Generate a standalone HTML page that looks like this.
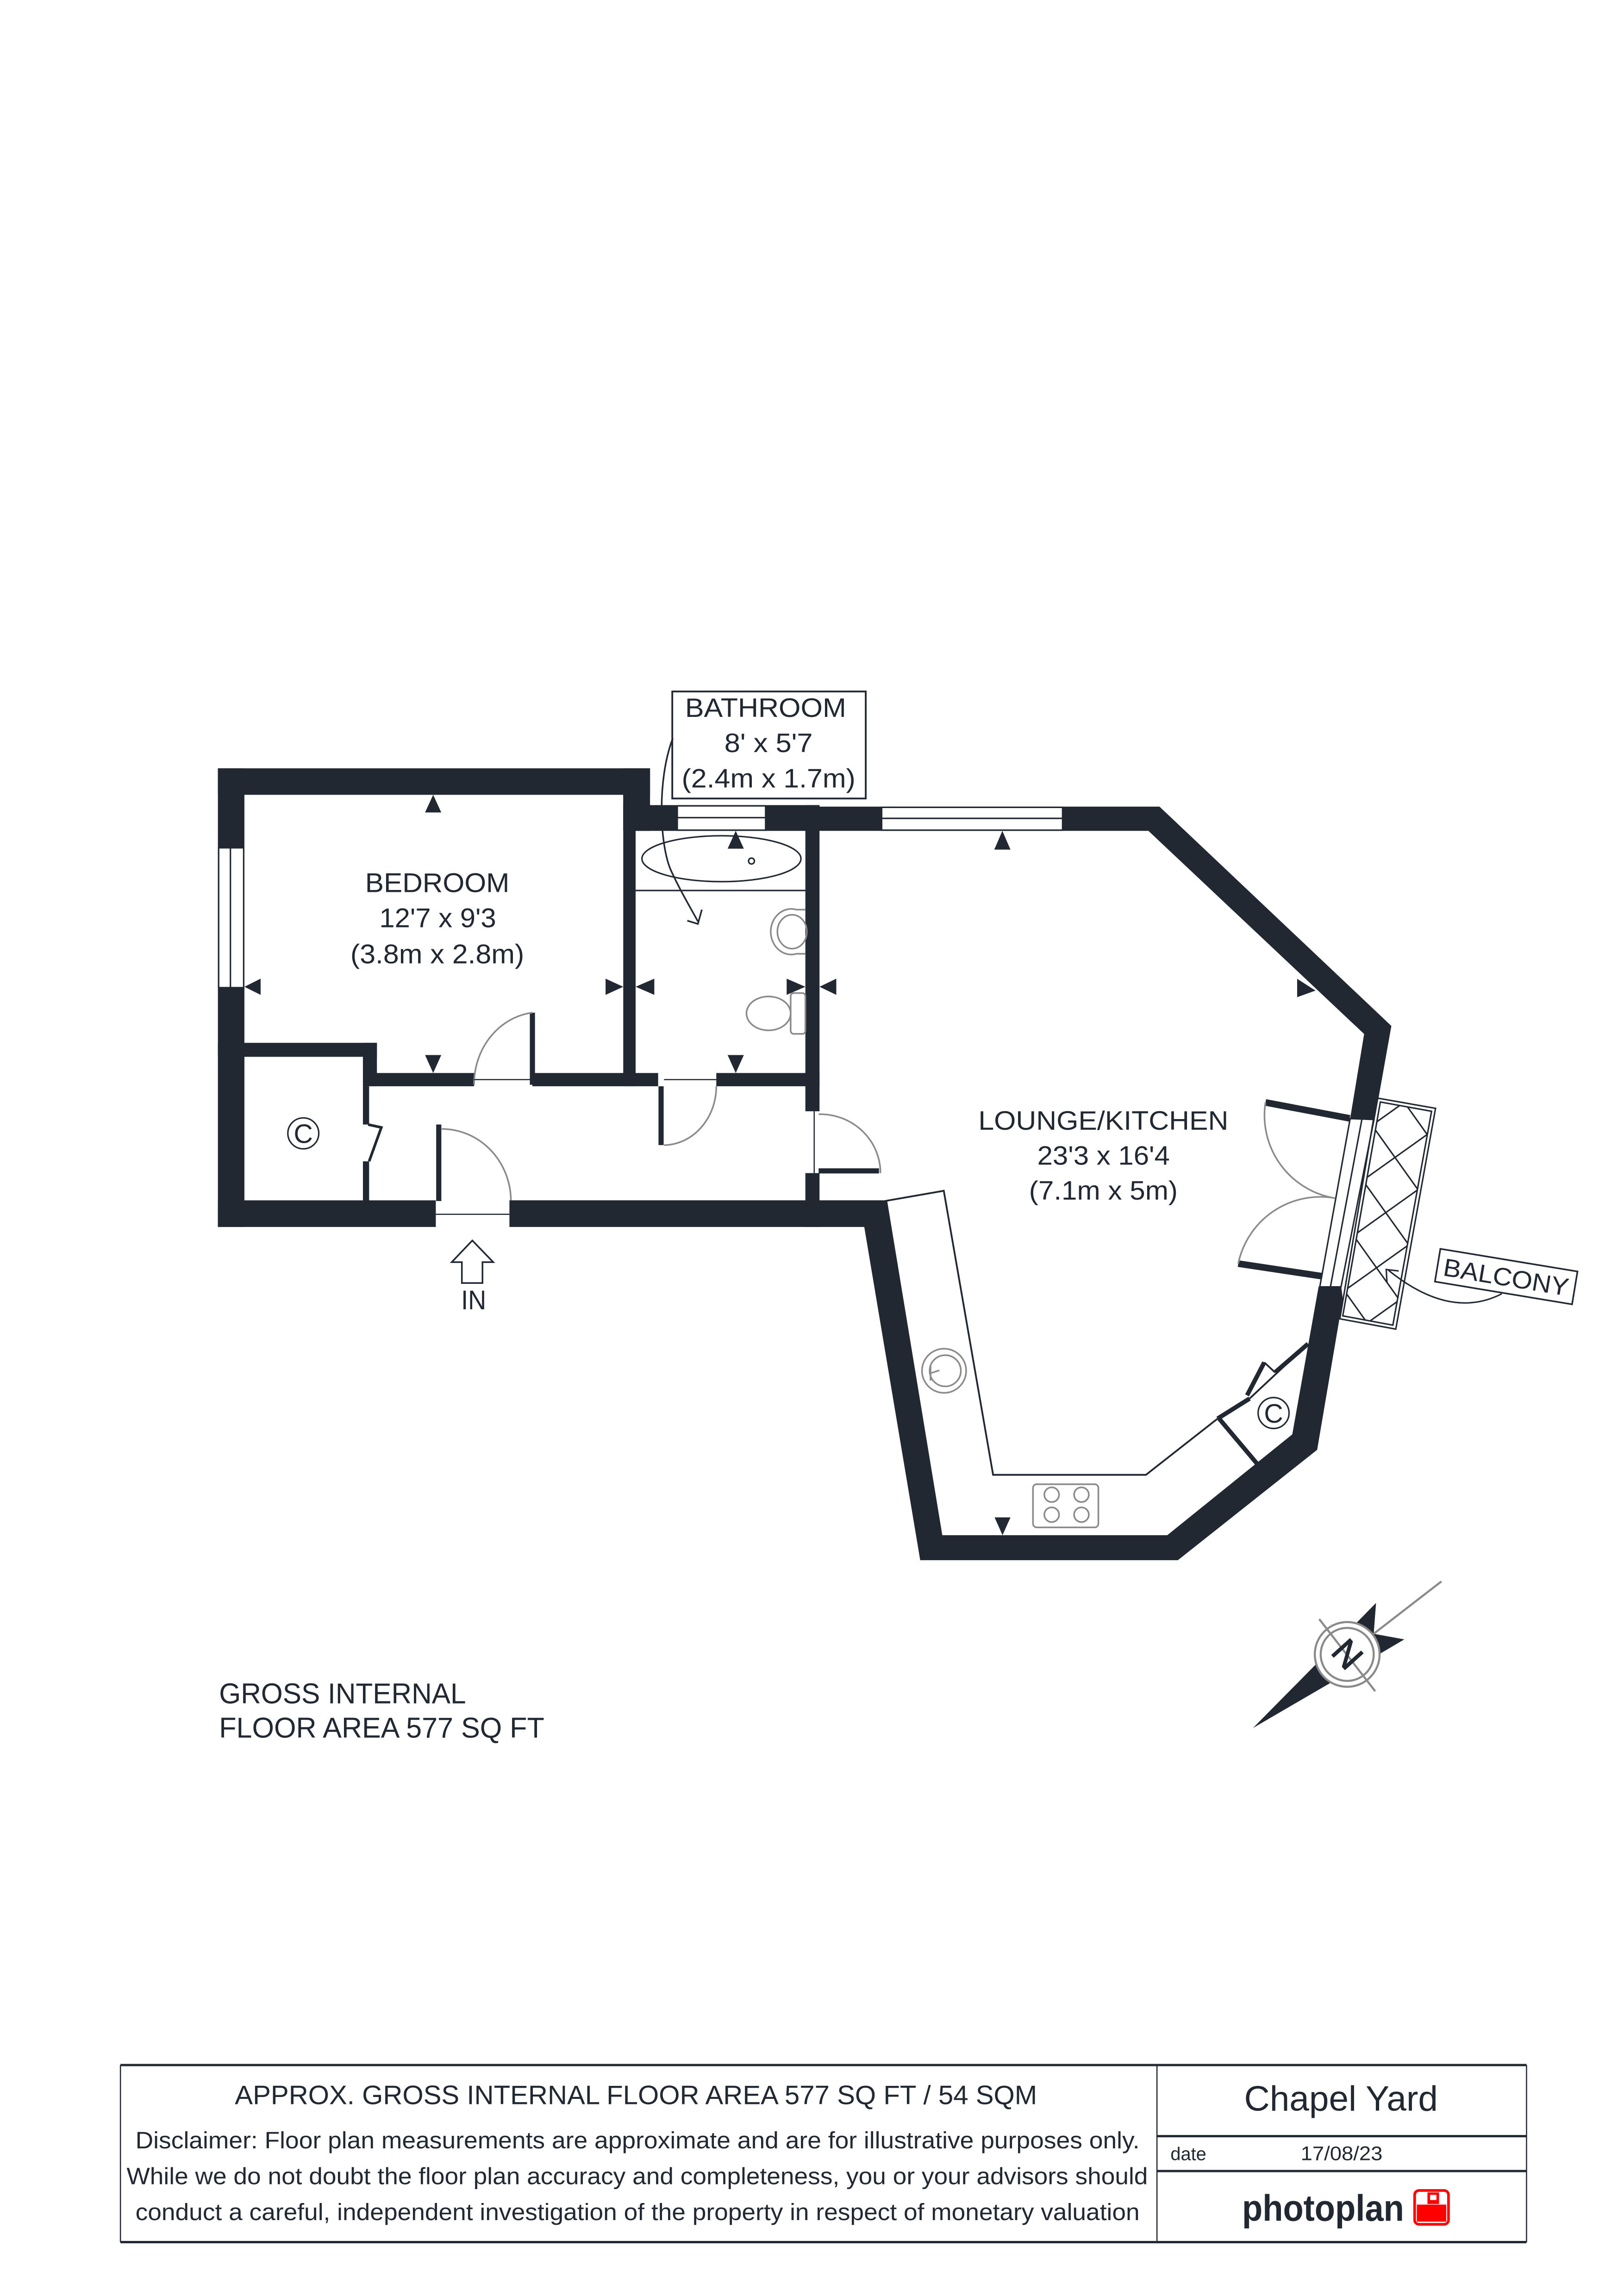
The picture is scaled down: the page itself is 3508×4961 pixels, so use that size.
<!DOCTYPE html>
<html><head><meta charset="utf-8"><style>
html,body{margin:0;padding:0;background:#fff;}
svg{display:block;}
text{font-family:"Liberation Sans",Arial,sans-serif;fill:#212831;}
</style></head><body>
<svg xmlns="http://www.w3.org/2000/svg" width="3508" height="4961" viewBox="0 0 1103 1559.9" preserveAspectRatio="none">
<rect x="0" y="0" width="1103" height="1560" fill="#fff"/>
<defs>
<clipPath id="balc"><polygon points="937,748.5 972.5,755 946,900.5 912,894"/></clipPath>
</defs>
<g fill="#212831" stroke="none">
<rect x="148" y="522" width="293.5" height="18"/>
<rect x="423.3" y="522" width="18.2" height="42.5"/>
<rect x="148" y="522" width="18" height="311.6"/>
<rect x="423.3" y="540" width="8.4" height="198"/>
<rect x="423.3" y="547" width="133.3" height="17.5"/>
<rect x="547" y="547" width="9.6" height="208"/>
<rect x="547" y="797" width="9.6" height="36.6"/>
<rect x="148" y="708.5" width="108" height="9.5"/>
<rect x="246.5" y="708.5" width="9.5" height="29.5"/>
<rect x="246.5" y="738" width="4.2" height="26"/>
<rect x="246.5" y="789" width="4.2" height="30"/>
<rect x="246.5" y="729" width="75.5" height="9"/>
<rect x="361.6" y="729" width="85.4" height="9"/>
<rect x="486.5" y="729" width="70.1" height="9"/>
<rect x="148" y="815.5" width="148" height="18.1"/>
<polygon points="346,815.5 602.5,815.5 640,1043 792.8,1043 877.7,974.5 895.6,874 911,874.3 912,882.5 894.6,985 800,1060 625,1060 587,833.6 346,833.6"/>
<polygon points="547,548 787.5,548 945,697 933.6,761 917,760 926.5,702.5 780,564.5 547,564.5"/>
</g>
<g fill="#fff" stroke="#212831" stroke-width="1">
<rect x="148.5" y="576" width="17" height="95"/>
<rect x="460" y="547.5" width="60" height="16.5"/>
<rect x="598.8" y="548.5" width="122.9" height="15.5"/>
<polygon points="917,760 933.2,760.6 910.8,874.3 896.4,874.3"/>
</g>
<g stroke="#212831" stroke-width="1" fill="none">
<line x1="156.5" y1="576" x2="156.5" y2="671"/>
<line x1="460" y1="555.5" x2="520" y2="555.5"/>
<line x1="598.8" y1="556" x2="721.7" y2="556"/>
<line x1="925" y1="760.3" x2="903.6" y2="874.3"/>
</g>
<g fill="none" stroke="#212831" stroke-width="1">
<polygon points="935.3,746 975,753 948,903 910,896"/>
<polygon points="937.5,748.7 972.3,755 946,900.3 912,894"/>
<g clip-path="url(#balc)">
<g transform="translate(942,825) rotate(9.5)">
<line x1="-20" y1="-96" x2="40" y2="-36"/>
<line x1="-20" y1="-58" x2="40" y2="2"/>
<line x1="-20" y1="-20" x2="40" y2="40"/>
<line x1="-20" y1="18" x2="40" y2="78"/>
<line x1="-20" y1="56" x2="40" y2="116"/>
<line x1="-60" y1="-56" x2="20" y2="-136"/>
<line x1="-60" y1="-18" x2="20" y2="-98"/>
<line x1="-60" y1="20" x2="20" y2="-60"/>
<line x1="-60" y1="58" x2="20" y2="-22"/>
<line x1="-60" y1="96" x2="20" y2="16"/>
<line x1="-60" y1="134" x2="20" y2="54"/>
</g></g>
</g>
<g stroke="#212831" stroke-width="4.5" fill="none">
<line x1="859.5" y1="749" x2="916.7" y2="759.8"/>
<line x1="841" y1="858.5" x2="897.5" y2="867"/>
</g>
<g stroke="#8a8a8a" stroke-width="1.1" fill="none">
<path d="M859.5,749 A57,57 0 0 0 906.6,814"/>
<path d="M841,858.5 A57,57 0 0 1 906.6,814"/>
</g>
<g stroke="#212831" stroke-width="3.5" fill="none">
<line x1="361.6" y1="688" x2="361.6" y2="737"/>
<line x1="449" y1="738" x2="449" y2="778"/>
<line x1="298" y1="764" x2="298" y2="816"/>
<line x1="556" y1="795.5" x2="597" y2="795.5"/>
</g>
<g stroke="#212831" stroke-width="1.8" fill="none">
<polyline points="250,764 259,766 250.7,789"/>
</g>
<g stroke="#8a8a8a" stroke-width="1.1" fill="none">
<path d="M322,737 A45,49 0 0 1 361.6,688"/>
<path d="M451,778 A36,40 0 0 0 486.5,738"/>
<path d="M300,767 A47,49 0 0 1 347,815.5"/>
<path d="M556,757 A41,40 0 0 1 598,797"/>
</g>
<g stroke="#212831" stroke-width="0.8" fill="none">
<line x1="322" y1="733.5" x2="361.6" y2="733.5"/>
<line x1="451" y1="733.5" x2="486.5" y2="733.5"/>
<line x1="296" y1="825" x2="346" y2="825"/>
<line x1="553" y1="755" x2="553" y2="797"/>
</g>
<g stroke="#212831" stroke-width="1.2" fill="none">
<polyline points="601,816 641,809 674.5,1002 778.3,1002 827,963.8"/>
<line x1="848.7" y1="950.2" x2="888.4" y2="913"/>
<line x1="858.7" y1="925.6" x2="866" y2="932.4"/>
</g>
<g stroke="#212831" stroke-width="3" fill="none">
<line x1="827" y1="963.8" x2="848.7" y2="950.2"/>
<line x1="828" y1="963.8" x2="854" y2="994.7"/>
<line x1="847" y1="948" x2="858.7" y2="925.6"/>
<line x1="866" y1="932.4" x2="888.4" y2="913"/>
</g>
<g stroke="#8a8a8a" stroke-width="1.1" fill="none">
<circle cx="641.2" cy="931.3" r="15"/>
<circle cx="642" cy="931.3" r="10.6"/>
<line x1="632" y1="933" x2="638" y2="931"/>
<line x1="632" y1="928" x2="632" y2="938"/>
<rect x="701.6" y="1008.4" width="44.4" height="29.3" rx="2.5"/>
<circle cx="714.3" cy="1015.5" r="5"/>
<circle cx="734.5" cy="1015.5" r="5"/>
<circle cx="714.3" cy="1029.1" r="5"/>
<circle cx="734.5" cy="1029.1" r="5"/>
</g>
<g stroke="#212831" stroke-width="1" fill="none">
<ellipse cx="490" cy="583.4" rx="54" ry="15.6"/>
<circle cx="510.4" cy="585" r="2"/>
<line x1="431.7" y1="605" x2="547" y2="605"/>
</g>
<g stroke="#8a8a8a" stroke-width="1.1" fill="none">
<path d="M547,618 L541,618 A14,15.5 0 1 0 541,648 L547,648"/>
<ellipse cx="538" cy="633" rx="10" ry="11.5"/>
<rect x="537" y="674.7" width="10" height="27.7" rx="2"/>
<ellipse cx="522" cy="688.5" rx="15" ry="11.5"/>
</g>
<g fill="none" stroke="#212831" stroke-width="1">
<circle cx="206" cy="770" r="10.5"/>
<circle cx="865" cy="960" r="10.5"/>
</g>
<text x="206" y="776.5" font-size="18" text-anchor="middle">C</text>
<text x="865" y="966.5" font-size="18" text-anchor="middle">C</text>
<g fill="#212831">
<polygon points="294.2,540 288.7,552 299.7,552"/>
<polygon points="166,670.4 177,664.9 177,675.9"/>
<polygon points="423.3,670.4 411.3,664.9 411.3,675.9"/>
<polygon points="431.7,670.4 444.4,664.9 444.4,675.9"/>
<polygon points="547,670.4 534.3,664.9 534.3,675.9"/>
<polygon points="556.6,670.4 568,664.9 568,675.9"/>
<polygon points="294.2,729 288.7,716.8 299.7,716.8"/>
<polygon points="499.7,729 494.2,716.8 505.2,716.8"/>
<polygon points="499.7,564.5 494.2,576.6 505.2,576.6"/>
<polygon points="680.8,564.5 675.3,577.2 686.3,577.2"/>
<polygon points="680.9,1043 675.5,1030.9 686.3,1030.9"/>
<polygon points="881,665 881,677.5 893.5,673"/>
</g>
<rect x="456.6" y="469.8" width="131.4" height="72.7" fill="#fff" stroke="#212831" stroke-width="1.2"/>
<text x="520" y="487" font-size="18" text-anchor="middle" textLength="109.4" lengthAdjust="spacingAndGlyphs">BATHROOM</text>
<text x="522" y="511" font-size="18" text-anchor="middle" textLength="60" lengthAdjust="spacingAndGlyphs">8' x 5'7</text>
<text x="522" y="535" font-size="18" text-anchor="middle" textLength="118" lengthAdjust="spacingAndGlyphs">(2.4m x 1.7m)</text>
<g stroke="#212831" stroke-width="1.1" fill="none">
<path d="M457,501.5 C446,530 448,575 456,592 C462,605 468,615 474,626"/>
<polyline points="466.8,625.5 474,627.7 476.7,618"/>
</g>
<text x="297" y="606" font-size="18.4" text-anchor="middle" textLength="98" lengthAdjust="spacingAndGlyphs">BEDROOM</text>
<text x="297.3" y="630" font-size="18.4" text-anchor="middle" textLength="79.3" lengthAdjust="spacingAndGlyphs">12'7 x 9'3</text>
<text x="297" y="654.5" font-size="18.4" text-anchor="middle" textLength="118" lengthAdjust="spacingAndGlyphs">(3.8m x 2.8m)</text>
<text x="749.4" y="767.5" font-size="18.2" text-anchor="middle" textLength="169.8" lengthAdjust="spacingAndGlyphs">LOUNGE/KITCHEN</text>
<text x="749.5" y="791.2" font-size="18.2" text-anchor="middle" textLength="90" lengthAdjust="spacingAndGlyphs">23'3 x 16'4</text>
<text x="749.4" y="815" font-size="18.2" text-anchor="middle" textLength="101" lengthAdjust="spacingAndGlyphs">(7.1m x 5m)</text>
<g transform="translate(1023,867.3) rotate(9.4)">
<rect x="-47.2" y="-11.3" width="94.4" height="22.6" fill="#fff" stroke="#212831" stroke-width="1.1"/>
<text x="0" y="6.3" font-size="17" text-anchor="middle" textLength="86" lengthAdjust="spacingAndGlyphs">BALCONY</text>
</g>
<g stroke="#212831" stroke-width="1" fill="none">
<path d="M1020,879 Q985,897 943,863"/>
<polyline points="942,871 941.5,862.5 950,863.5"/>
</g>
<polygon points="320.8,842.8 335,857.5 327.7,857.5 327.7,871.7 313.7,871.7 313.7,857.5 306.8,857.5" fill="#fff" stroke="#212831" stroke-width="1.1"/>
<text x="321.7" y="889.5" font-size="18.4" text-anchor="middle" textLength="17" lengthAdjust="spacingAndGlyphs">IN</text>
<text x="148.8" y="1157.3" font-size="19.6" textLength="167.7" lengthAdjust="spacingAndGlyphs">GROSS INTERNAL</text>
<text x="148.8" y="1180.6" font-size="19.6" textLength="220.9" lengthAdjust="spacingAndGlyphs">FLOOR AREA 577 SQ FT</text>
<polygon points="851,1174 892.5,1132 934.6,1089 933,1110 953.8,1113.8 903,1143.7" fill="#212831"/>
<line x1="979" y1="1074.4" x2="933" y2="1110" stroke="#8a8a8a" stroke-width="1.4"/>
<circle cx="915" cy="1124" r="22" fill="#fff" stroke="#8a8a8a" stroke-width="1.4"/>
<circle cx="915" cy="1124" r="18" fill="none" stroke="#8a8a8a" stroke-width="1.4"/>
<line x1="896" y1="1100" x2="934" y2="1149" stroke="#8a8a8a" stroke-width="1.4"/>
<text x="915" y="1124" font-size="24" text-anchor="middle" dominant-baseline="central" transform="rotate(48 915 1124)" stroke="#212831" stroke-width="0.6">N</text>
<g stroke="#212831" fill="none">
<line x1="81.8" y1="1403" x2="1036.8" y2="1403" stroke-width="1.6"/>
<line x1="81.8" y1="1523.3" x2="1036.8" y2="1523.3" stroke-width="1.6"/>
<line x1="81.8" y1="1403" x2="81.8" y2="1523.3" stroke-width="0.8"/>
<line x1="1036.8" y1="1403" x2="1036.8" y2="1523.3" stroke-width="0.8"/>
<line x1="785.8" y1="1403" x2="785.8" y2="1523.3" stroke-width="0.8"/>
<line x1="785.8" y1="1451.3" x2="1036.8" y2="1451.3" stroke-width="1.6"/>
<line x1="785.8" y1="1475" x2="1036.8" y2="1475" stroke-width="1.6"/>
</g>
<text x="159.5" y="1429.6" font-size="18" textLength="544.9" lengthAdjust="spacingAndGlyphs">APPROX. GROSS INTERNAL FLOOR AREA 577 SQ FT / 54 SQM</text>
<text x="92" y="1459.6" font-size="16" textLength="682" lengthAdjust="spacingAndGlyphs">Disclaimer: Floor plan measurements are approximate and are for illustrative purposes only.</text>
<text x="86" y="1484" font-size="16" textLength="693.6" lengthAdjust="spacingAndGlyphs">While we do not doubt the floor plan accuracy and completeness, you or your advisors should</text>
<text x="92" y="1508.4" font-size="16" textLength="682" lengthAdjust="spacingAndGlyphs">conduct a careful, independent investigation of the property in respect of monetary valuation</text>
<text x="845" y="1434" font-size="24" textLength="131.6" lengthAdjust="spacingAndGlyphs">Chapel Yard</text>
<text x="795" y="1467.6" font-size="12.5" textLength="24.3" lengthAdjust="spacingAndGlyphs">date</text>
<text x="883.4" y="1467.6" font-size="13.5" textLength="55.6" lengthAdjust="spacingAndGlyphs">17/08/23</text>
<text x="843.6" y="1508.8" font-size="25" font-weight="bold" textLength="110" lengthAdjust="spacingAndGlyphs">photoplan</text>
<rect x="960.8" y="1488.2" width="23" height="23" rx="3" fill="none" stroke="#f00" stroke-width="1.8"/>
<rect x="962.3" y="1497.8" width="20" height="11.6" fill="#f00"/>
<rect x="969.5" y="1489.5" width="7.9" height="7.9" fill="#f00"/>
<rect x="971.3" y="1491.2" width="4.3" height="3.5" fill="#fff"/>
</svg>
</body></html>
